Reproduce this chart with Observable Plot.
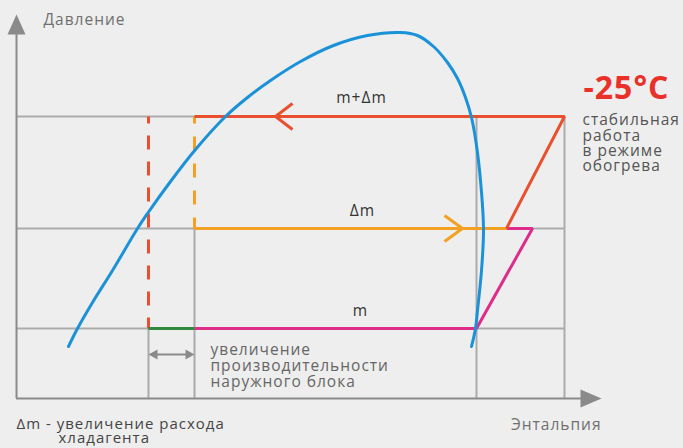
<!DOCTYPE html>
<html><head><meta charset="utf-8">
<script src="https://cdn.jsdelivr.net/npm/d3@7"></script>
<script src="https://cdn.jsdelivr.net/npm/@observablehq/plot@0.6"></script>
<style>html,body{margin:0;padding:0;background:#eeeeee;overflow:hidden}</style>
</head><body><div id="chart"></div>
<script>
// Saturation dome: enthalpy (arbitrary units) and pressure (arbitrary units)
const domeH = [10.4,12.2,15.2,19.2,24.2,26.2,30.8,35.8,41.8,46.2,50.8,56.8,63.4,70.2,76.8,80.2,83.4,86.2,88.2,89.8,91,92,92.8,93.4,93,92.2,91.8,91];
const domeP = [13,17.5,24,32,42.5,46.25,54.25,62.25,70.5,75.25,79.5,84.25,88.25,90.75,91.5,90.75,88,84,80,75.25,70.25,63.25,54.5,42.5,32,22,17.5,13];

// Pressure levels (low = m, middle = Δm, high = m+Δm)
const pressureLevels = [17.5, 42.5, 70.5];
// Enthalpy reference lines and how high they reach
const gridH = [26.4, 35.6, 92, 109.6];
const gridTop = [17.5, 42.5, 70.5, 70.5];
const axisEnd = {h: 117, p: 96};

// Cycle paths [enthalpy, pressure]
const highPath = [[35.6,70.5],[109.6,70.5],[98,42.5]];          // m+Δm (red)
const midPath = [[35.6,42.5],[98,42.5]];                          // Δm (orange)
const lowPath = [[98,42.5],[103.2,42.5],[92,17.5],[35.6,17.5]];   // m (magenta)
const gainPath = [[26.4,17.5],[35.6,17.5]];                       // extra capacity (green)
const redDash = [[26.4,70.5],[26.4,17.5]];
const orangeDash = [[35.6,70.5],[35.6,42.5]];
const redArrowAt = [[51.8,70.5]];
const orangeArrowAt = [[89.2,42.5]];
const spanArrow = [26.4, 35.6, 11];

const labels = ["Давление","Энтальпия","m+Δm","Δm","m","-25°C","стабильная\nработа\nв режиме\nобогрева","увеличение\nпроизводительности\nнаружного блока","Δm - увеличение расхода","хладагента"];

const pts = a => a.map(([h,p]) => ({h,p}));
const dome = domeH.map((h,i) => ({h, p: domeP[i]}));

const FONT = "'Open Sans', sans-serif";
const GRID = "#ababab", AXIS = "#8a8a8a";
const BLUE = "#1b91d8", RED = "#e9502f", ORANGE = "#f4a023", MAGENTA = "#de2c8b", GREEN = "#2f8a3e";

const sym = f => ({draw: f});
const upHead = sym(c => {c.moveTo(0,0); c.lineTo(9,20); c.lineTo(-9,20); c.closePath();});
const rightHead = sym(c => {c.moveTo(0,0); c.lineTo(-21,-9); c.lineTo(-21,9); c.closePath();});
const chevL = sym(c => {c.moveTo(17,-13); c.lineTo(0,0); c.lineTo(17,13);});
const chevR = sym(c => {c.moveTo(-18,-13); c.lineTo(0,0); c.lineTo(-18,13);});
const smallL = sym(c => {c.moveTo(0,0); c.lineTo(9,-5); c.lineTo(9,5); c.closePath();});
const smallR = sym(c => {c.moveTo(0,0); c.lineTo(-9,-5); c.lineTo(-9,5); c.closePath();});

const lineOpts = (stroke, extra={}) => ({x:"h", y:"p", stroke, strokeWidth:3, strokeLinejoin:"miter", strokeLinecap:"butt", ...extra});
const FS = 15.5;

const chart = Plot.plot({
  width: 683, height: 448,
  marginLeft: 16, marginRight: 82, marginTop: 14, marginBottom: 50,
  x: {domain: [0, axisEnd.h], axis: null},
  y: {domain: [0, axisEnd.p], axis: null},
  style: {background: "#eeeeee", fontFamily: FONT, overflow: "visible", letterSpacing: "1px"},
  marks: [
    Plot.ruleY(pressureLevels, {x1: 0, x2: gridH[3], stroke: GRID, strokeWidth: 2}),
    Plot.ruleX(gridH.map((h,i)=>({h, top: gridTop[i]})), {x: "h", y1: 0, y2: "top", stroke: GRID, strokeWidth: 2}),
    Plot.ruleY([0], {x1: 0, x2: axisEnd.h - 2, stroke: AXIS, strokeWidth: 2}),
    Plot.ruleX([0], {y1: 0, y2: axisEnd.p - 2, stroke: AXIS, strokeWidth: 2}),
    Plot.dot([{h:0, p:axisEnd.p}], {x:"h", y:"p", symbol: upHead, fill: AXIS, stroke: "none"}),
    Plot.dot([{h:axisEnd.h, p:0}], {x:"h", y:"p", symbol: rightHead, fill: AXIS, stroke: "none"}),
    Plot.line(pts(redDash), lineOpts(RED, {strokeDasharray: "14 12", strokeDashoffset: 7})),
    Plot.line(pts(orangeDash), lineOpts(ORANGE, {strokeDasharray: "14 13", strokeDashoffset: 7})),
    Plot.line(pts(lowPath), lineOpts(MAGENTA)),
    Plot.line(pts(midPath), lineOpts(ORANGE)),
    Plot.line(pts(highPath), lineOpts(RED)),
    Plot.line(pts(gainPath), lineOpts(GREEN)),
    Plot.dot(pts(redArrowAt), {x:"h", y:"p", symbol: chevL, stroke: RED, fill: "none", strokeWidth: 3}),
    Plot.dot(pts(orangeArrowAt), {x:"h", y:"p", symbol: chevR, stroke: ORANGE, fill: "none", strokeWidth: 3}),
    Plot.line(dome, {x:"h", y:"p", curve:"catmull-rom", stroke: BLUE, strokeWidth: 3}),
    Plot.ruleY([spanArrow[2]], {x1: spanArrow[0] + 1, x2: spanArrow[1] - 1, stroke: AXIS, strokeWidth: 2}),
    Plot.dot([{h:spanArrow[0], p:spanArrow[2]}], {x:"h", y:"p", symbol: smallL, fill: AXIS, stroke:"none"}),
    Plot.dot([{h:spanArrow[1], p:spanArrow[2]}], {x:"h", y:"p", symbol: smallR, fill: AXIS, stroke:"none"}),
    Plot.text([labels[0]], {x: 5.4, y: 94.5, text: d=>d, textAnchor: "start", fontSize: FS, fill: "#707070"}),
    Plot.text([labels[1]], {x: 117, y: -6.75, text: d=>d, textAnchor: "end", fontSize: FS, fill: "#707070"}),
    Plot.text([labels[2]], {x: 69, y: 75, text: d=>d, fontSize: FS, fill: "#333"}),
    Plot.text([labels[3]], {x: 69.2, y: 46.75, text: d=>d, fontSize: FS, fill: "#333"}),
    Plot.text([labels[4]], {x: 68.8, y: 21.75, text: d=>d, fontSize: FS, fill: "#333"}),
    Plot.text([labels[5]], {x: 113.4, y: 77.5, text: d=>d, textAnchor: "start", fontSize: 32, fontWeight: "bold", fill: "#ea3029", style: "letter-spacing:2.5px"}),
    Plot.text([labels[6]], {x: 113.2, y: 63.75, text: d=>d, textAnchor: "start", lineHeight: 0.99, fontSize: FS, fill: "#555"}),
    Plot.text([labels[7]], {x: 38.8, y: 8.25, text: d=>d, textAnchor: "start", lineHeight: 1.03, fontSize: FS, fill: "#666"}),
    Plot.text([labels[8]], {x: 0, y: -6.5, text: d=>d, textAnchor: "start", fontSize: 15, fill: "#444"}),
    Plot.text([labels[9]], {x: 8.4, y: -10, text: d=>d, textAnchor: "start", fontSize: 15, fill: "#444"})
  ]
});
document.getElementById("chart").appendChild(chart);
</script>
</body></html>
